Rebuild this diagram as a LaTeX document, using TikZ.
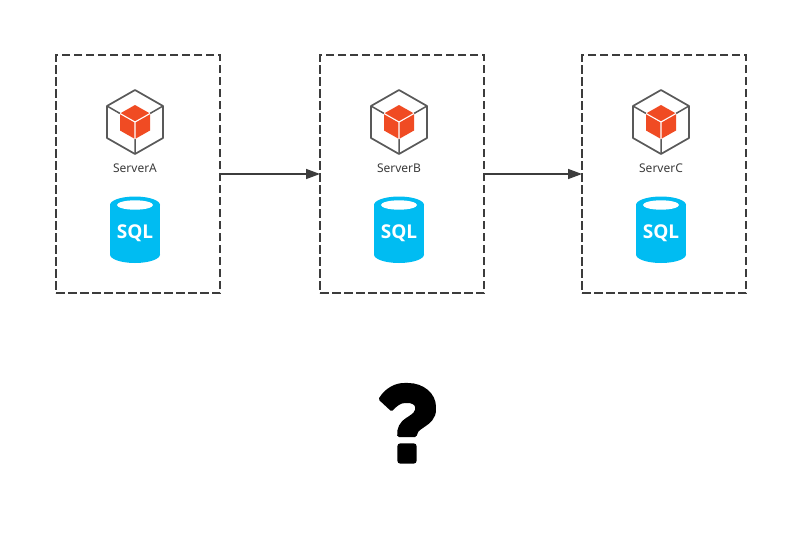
\documentclass[tikz,border=0pt]{standalone}
\usepackage{fontspec}
\setmainfont{Noto Sans}
\newfontfamily\sqlfont{Open Sans}
\usetikzlibrary{arrows.meta}
\definecolor{linegray}{HTML}{3C3C3C}
\definecolor{hexgray}{HTML}{595959}
\definecolor{cubered}{HTML}{F04B23}
\definecolor{sqlblue}{HTML}{00BCF2}
\tikzset{
  serverbox/.style={draw=linegray,line width=1.5pt,dash pattern=on 8.5pt off 3.5pt,minimum width=164pt,minimum height=238pt,inner sep=0pt,outer sep=0pt},
  flow/.style={draw=linegray,line width=1.4pt,-{Triangle[length=14pt,width=10pt]}},
  srvlabel/.style={text=linegray,font=\fontsize{12}{14}\selectfont,inner sep=0pt},
  sqllabel/.style={text=white,font=\sqlfont\fontsize{19}{21}\selectfont\bfseries,inner sep=0pt},
  hexline/.style={draw=hexgray,line width=1.7pt,line join=round},
  cubeline/.style={draw=white,line width=1.1pt}
}
\newcommand{\servericon}[3]{%
  \begin{scope}[xshift=#1pt]
    \draw[hexline] (135,90) -- (163,106) -- (163,138) -- (135,154) -- (107,138) -- (107,106) -- cycle;
    \draw[hexline,line width=1.5pt] (107,106) -- (120,113.5) (163,106) -- (150,113.5) (135,154) -- (135,139);
    \fill[cubered] (135,105) -- (150,113.5) -- (150,130.5) -- (135,139) -- (120,130.5) -- (120,113.5) -- cycle;
    \draw[cubeline] (120,113.5) -- (135,122) -- (150,113.5) (135,122) -- (135,139);
    \node[srvlabel] (label#2) at (135,168) {Server#2};
    \fill[sqlblue] (135,205) ellipse[x radius=25,y radius=8.5];
    \fill[sqlblue] (135,254.5) ellipse[x radius=25,y radius=8.5];
    \fill[sqlblue] (110,205) rectangle (160,254.5);
    \fill[white] (135,205) ellipse[x radius=18,y radius=4.7];
    \node[sqllabel] (sql#2) at (135,233) {SQL};
  \end{scope}
}
\begin{document}
\begin{tikzpicture}[x=1pt,y=-1pt]
  \useasboundingbox (0,0) rectangle (800,533);
  \fill[white] (0,0) rectangle (800,533);
  \node[serverbox] (boxA) at (138,174) {};
  \node[serverbox] (boxB) at (402,174) {};
  \node[serverbox] (boxC) at (664,174) {};
  \servericon{0}{A}{}
  \servericon{264}{B}{}
  \servericon{526}{C}{}
  \draw[flow] (boxA.east) -- (boxB.west);
  \draw[flow] (boxB.east) -- (boxC.west);
  \begin{scope}[shift={(365,375)},x=0.3333pt,y=-0.3333pt]
    \fill[black,rounded corners=1.5pt] (40,73)
      .. controls (60,40) and (90,23) .. (125,24)
      .. controls (175,24) and (213,55) .. (213,100)
      .. controls (213,130) and (195,145) .. (175,158)
      .. controls (162,167) and (156,172) .. (155,186)
      -- (97,186)
      .. controls (95,160) and (103,142) .. (128,126)
      .. controls (143,116) and (150,110) .. (150,100)
      .. controls (150,90) and (140,84) .. (125,84)
      .. controls (107,84) and (95,93) .. (80,110)
      -- cycle;
    \fill[black,rounded corners=3pt] (97,205) rectangle (155,266);
  \end{scope}
\end{tikzpicture}
\end{document}
